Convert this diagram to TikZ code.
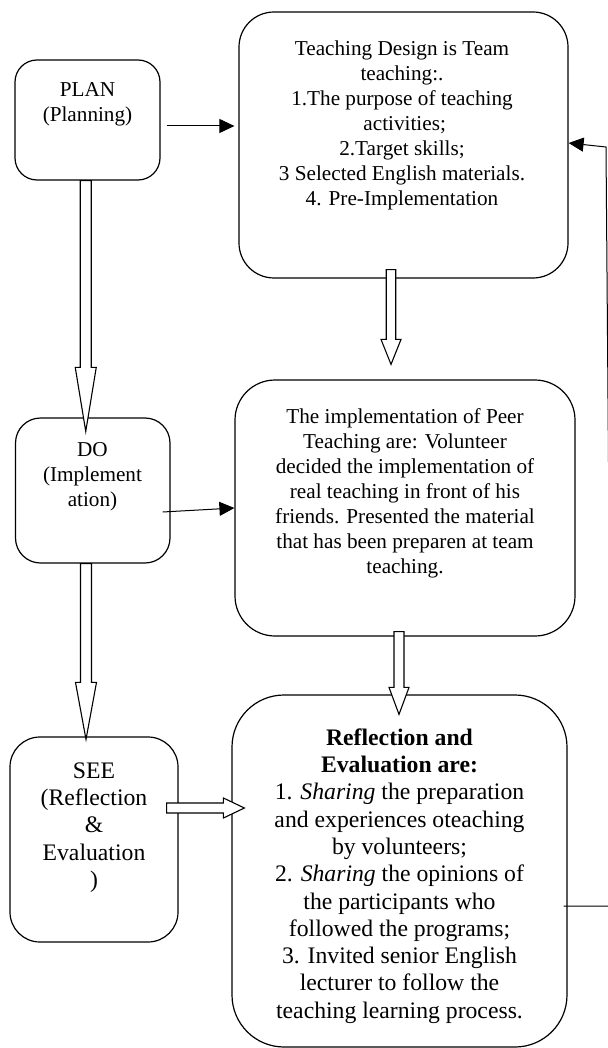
\documentclass[tikz,border=0pt]{standalone}
\usepackage{fontspec}
\setmainfont{Liberation Serif}
\usetikzlibrary{arrows.meta,calc}
\tikzset{
  box/.style={draw, line width=1.2pt, rectangle, inner sep=0pt},
  txt/.style={inner sep=0pt, align=center, anchor=north, font=\fontsize{21.2}{25}\selectfont},
  bigtxt/.style={inner sep=0pt, align=center, anchor=north, font=\fontsize{23.7}{27.3}\selectfont},
  arr/.style={line width=1pt, -{Triangle[length=15pt,width=14pt]}},
  blk/.style={draw, fill=white, line width=1.1pt, line join=miter}
}
\newcommand\vblk[5]{%
  \draw[blk] let \p1=#1, \p2=#2 in
    (\x2-#4,\y1) -- (\x2-#4,\y2+#3) -- (\x2-#5,\y2+#3) -- (\x2,\y2) --
    (\x2+#5,\y2+#3) -- (\x2+#4,\y2+#3) -- (\x2+#4,\y1) -- cycle;}
\newcommand\hblk[5]{%
  \draw[blk] let \p1=#1, \p2=#2 in
    (\x1,\y2-#4) -- (\x2-#3,\y2-#4) -- (\x2-#3,\y2-#5) -- (\x2,\y2) --
    (\x2-#3,\y2+#5) -- (\x2-#3,\y2+#4) -- (\x1,\y2+#4) -- cycle;}
\begin{document}
\begin{tikzpicture}[x=1pt,y=-1pt]
\useasboundingbox (0,0) rectangle (607,1048);
% boxes
\node[box, rounded corners=22pt, minimum width=145pt, minimum height=120pt] (plan) at (87.5,120) {};
\node[box, rounded corners=35pt, minimum width=329pt, minimum height=266pt] (team) at (403.5,145) {};
\node[box, rounded corners=25pt, minimum width=154.5pt, minimum height=145pt] (do) at (92.75,490.5) {};
\node[box, rounded corners=40pt, minimum width=340pt, minimum height=256pt] (impl) at (405,508) {};
\node[box, rounded corners=30pt, minimum width=168pt, minimum height=205pt] (see) at (94,839.5) {};
\node[box, rounded corners=52pt, minimum width=335pt, minimum height=352pt] (refl) at (399.5,871) {};
% texts
\node[txt] (plantxt) at (87.5,78.5) {\strut PLAN\\(Planning)};
\node[txt] (teamtxt) at (402,37.5) {\strut Teaching Design is Team\\teaching:.\\ 1.The purpose of teaching\\ \ activities;\\2.Target skills;\\3 Selected English materials.\\4. Pre-Implementation};
\node[txt] (dotxt) at (92.5,438.5) {\strut DO\\(Implement\\ation)};
\node[txt] (impltxt) at (405,405.5) {\strut The implementation of Peer\\Teaching are: Volunteer\\decided the implementation of\\real teaching in front of his\\friends. Presented the material\\that has been preparen at team\\teaching.};
\node[bigtxt] (seetxt) at (94,758.9) {\strut SEE\\(Reflection\\\&\\Evaluation\\)};
\node[bigtxt] (refltxt) at (399.5,725.9) {\strut\textbf{Reflection and}\\\textbf{Evaluation are:}\\ 1. \textit{Sharing} the preparation\\and experiences oteaching\\by volunteers;\\2. \textit{Sharing} the opinions of\\the participants who\\followed the programs;\\3. Invited senior English\\lecturer to follow the\\teaching learning process.};
% plain arrows
\draw[arr] ([shift={(6pt,-6pt)}]plan.east) -- ([shift={(-4pt,19pt)}]team.west);
\draw[arr] ([shift={(-8pt,-21.5pt)}]do.east) -- (impl.west);
\coordinate (rc1) at (612,906);
\coordinate (rc2) at (606,147);
\draw[arr, line join=miter] ([shift={(-4pt,-35pt)}]refl.east) -- (rc1) -- (rc2) -- ([yshift=2pt]team.east);
% block arrows
\vblk{([xshift=-1.5pt]plan.south)}{([shift={(-7pt,-14pt)}]do.north)}{64pt}{5.5pt}{10.5pt}
\vblk{([shift={(-12.5pt,9pt)}]team.south)}{([shift={(-14pt,15pt)}]impl.north)}{25pt}{4.75pt}{10pt}
\vblk{([shift={(-6pt,5pt)}]impl.south)}{([shift={(-0.5pt,-20pt)}]refl.north)}{27pt}{5pt}{10pt}
\vblk{([xshift=-6.75pt]do.south)}{([shift={(-8pt,-3pt)}]see.north)}{57pt}{5.5pt}{10.5pt}
\hblk{([shift={(-12pt,31.5pt)}]see.east)}{([shift={(13pt,63pt)}]refl.west)}{21pt}{5pt}{10pt}
\end{tikzpicture}
\end{document}
